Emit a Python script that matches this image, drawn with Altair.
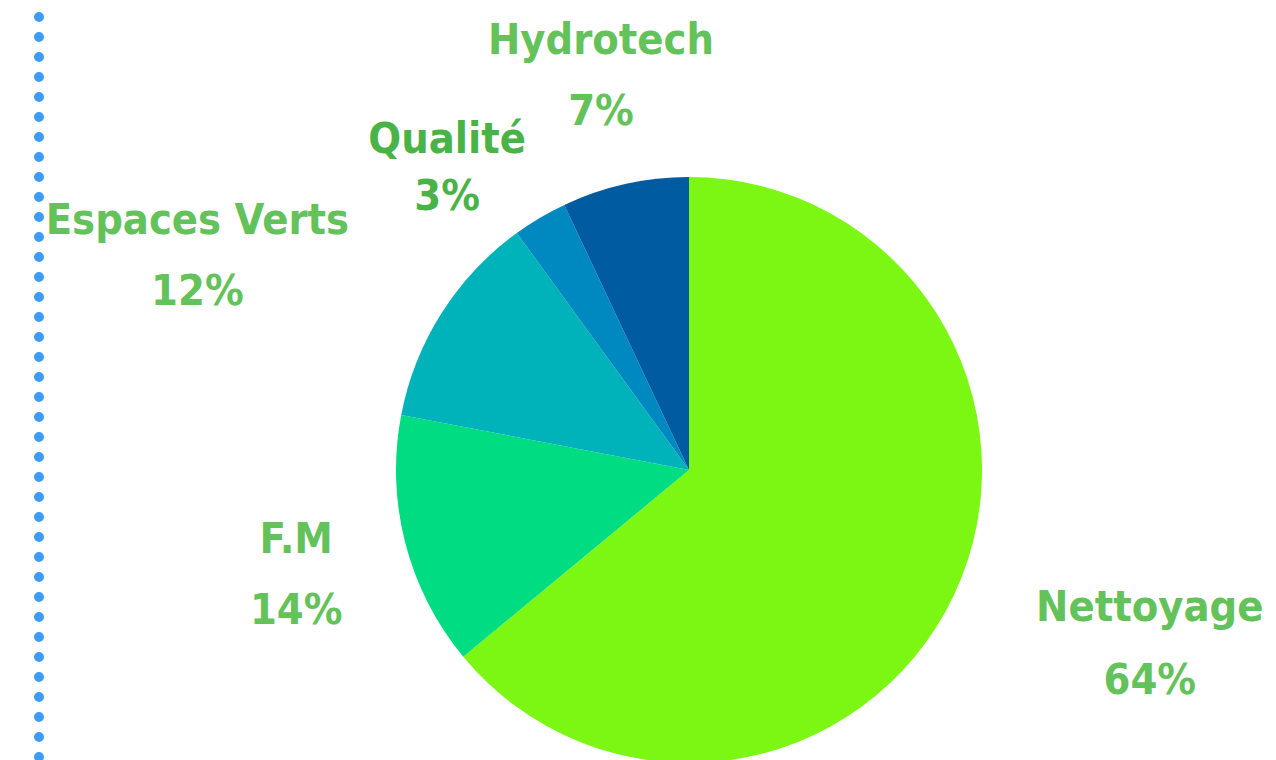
import altair as alt
import pandas as pd

categories = ["Nettoyage", "F.M", "Espaces Verts", "Qualité", "Hydrotech"]
values = [64, 14, 12, 3, 7]
slice_colors = ["#7cf714", "#00dc82", "#00b3ba", "#0088c0", "#005ba0"]

df = pd.DataFrame({"cat": categories, "value": values, "idx": list(range(len(categories)))})

CX, CY = 681, 462
R = 293
FONT = "DejaVu Sans Condensed, Liberation Sans Narrow, sans-serif"
FS = 43

label_style = {
    "Nettoyage":     dict(radius=481, off=-0.149, lh=73, color="#64c25a"),
    "F.M":           dict(radius=399, off=0.075, lh=71, color="#64c25a"),
    "Espaces Verts": dict(radius=551, off=-0.097, lh=71, color="#64c25a"),
    "Qualité":       dict(radius=409, off=-0.0986, lh=57, color="#4ab347"),
    "Hydrotech":     dict(radius=438, off=0.0176, lh=71, color="#64c25a"),
}

theta_scale = alt.Scale(domain=[0, 100], range=[0, 6.283185307179586])

base = alt.Chart(df)

pie = base.mark_arc(outerRadius=R, stroke=None).encode(
    theta=alt.Theta("value:Q", stack=True, scale=theta_scale),
    color=alt.Color("cat:N", scale=alt.Scale(domain=categories, range=slice_colors), legend=None),
    order=alt.Order("idx:Q"),
    x=alt.value(CX),
    y=alt.value(CY),
)

labelled = base.transform_window(
    cum="sum(value)", sort=[alt.SortField("idx")], frame=[None, 0]
).transform_calculate(
    mid="datum.cum - datum.value / 2",
    label="datum.cat + '\\n' + datum.value + '%'",
)

layers = [pie]
for cat in categories:
    s = label_style[cat]
    layers.append(
        labelled.transform_filter(alt.datum.cat == cat).mark_text(
            radius=s["radius"], thetaOffset=s["off"], lineBreak="\n",
            lineHeight=s["lh"], font=FONT, fontSize=FS, fontWeight="bold",
            color=s["color"], align="center", baseline="middle",
        ).encode(
            theta=alt.Theta("mid:Q", scale=theta_scale, stack=None),
            text="label:N",
            x=alt.value(CX),
            y=alt.value(CY),
        )
    )

dots = alt.Chart(pd.DataFrame({"a": [0]})).mark_rule(
    strokeDash=[0.001, 20], strokeCap="round", strokeWidth=10, color="#3d9cf5"
).encode(x=alt.value(31), y=alt.value(-11), y2=alt.value(752))
layers.append(dots)

chart = alt.layer(*layers).properties(
    width=1260, height=752, autosize=alt.AutoSizeParams(type="none"), padding=0
).configure_view(stroke=None)

chart.save("out.html", embed_options={"renderer": "svg", "actions": False})
